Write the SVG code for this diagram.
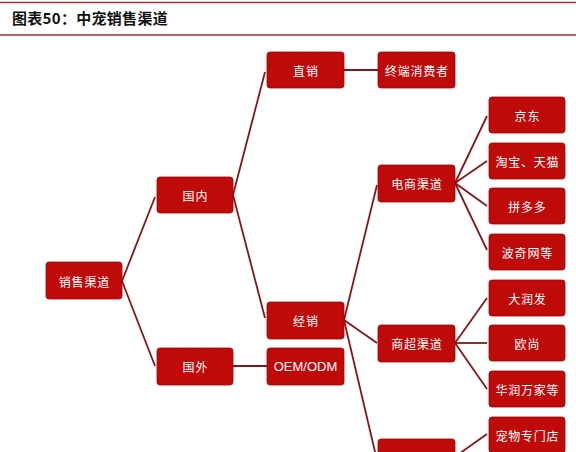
<svg xmlns="http://www.w3.org/2000/svg" width="576" height="452" viewBox="0 0 576 452">
<defs>
<style>
.hdr{stroke:#9c3434;stroke-width:1.3}
.title{font-family:"Noto Sans CJK SC","Noto Sans",sans-serif;font-size:15px;font-weight:bold;fill:#111;letter-spacing:0.3px}
.box{fill:#bf0a0a;stroke:#a20404;stroke-width:0.8}
.lbl{font-family:"Noto Sans CJK SC","Noto Sans",sans-serif;font-size:12px;fill:#fff;text-anchor:middle;dominant-baseline:central;letter-spacing:0.8px}
.lat{font-family:"Liberation Sans",Arial,sans-serif;font-size:13px;fill:#fff;text-anchor:middle;dominant-baseline:central}
.con line{stroke:#86161a;stroke-width:1.8;fill:none}
</style>
</defs>
<rect width="576" height="452" fill="#fff"/>
<line class="hdr" x1="0" y1="2.5" x2="576" y2="2.5"/>
<line class="hdr" x1="0" y1="35" x2="576" y2="35"/>
<text class="title" x="12" y="24">图表50：中宠销售渠道</text>

<g id="connectors" class="con">
<line x1="122" y1="281" x2="155" y2="197"/>
<line x1="122" y1="281" x2="155" y2="366"/>
<line x1="233" y1="195" x2="265" y2="72"/>
<line x1="233" y1="195" x2="265" y2="318"/>
<line x1="233" y1="366" x2="267" y2="366"/>
<line x1="344" y1="70" x2="378" y2="70"/>
<line x1="344" y1="320" x2="377" y2="185"/>
<line x1="344" y1="320" x2="377" y2="343"/>
<line x1="344" y1="320" x2="376" y2="456"/>
<line x1="455" y1="183" x2="487" y2="116"/>
<line x1="455" y1="183" x2="487" y2="161"/>
<line x1="455" y1="183" x2="487" y2="206"/>
<line x1="455" y1="183" x2="487" y2="250"/>
<line x1="455" y1="343" x2="487" y2="298"/>
<line x1="455" y1="343" x2="487" y2="343"/>
<line x1="455" y1="343" x2="487" y2="389"/>
<line x1="456" y1="456" x2="487" y2="434"/>
</g>

<g id="n-root"><rect class="box" x="46" y="262" width="76" height="37" rx="3"/><text class="lbl" x="84.4" y="281">销售渠道</text></g>
<g id="n-domestic"><rect class="box" x="157" y="177" width="76" height="36" rx="3"/><text class="lbl" x="195.4" y="195">国内</text></g>
<g id="n-overseas"><rect class="box" x="157" y="348" width="76" height="37" rx="3"/><text class="lbl" x="195.4" y="366.5">国外</text></g>
<g id="n-direct"><rect class="box" x="267" y="52" width="77" height="36" rx="3"/><text class="lbl" x="305.9" y="70">直销</text></g>
<g id="n-distrib"><rect class="box" x="267" y="302" width="77" height="37" rx="3"/><text class="lbl" x="305.9" y="320.5">经销</text></g>
<g id="n-oem"><rect class="box" x="267" y="348" width="77" height="37" rx="3"/><text class="lat" x="305.5" y="366.5">OEM/ODM</text></g>
<g id="n-consumer"><rect class="box" x="378" y="52" width="77" height="36" rx="3"/><text class="lbl" x="416.9" y="70">终端消费者</text></g>
<g id="n-ecom"><rect class="box" x="378" y="165" width="77" height="37" rx="3"/><text class="lbl" x="416.9" y="183.5">电商渠道</text></g>
<g id="n-super"><rect class="box" x="378" y="325" width="77" height="37" rx="3"/><text class="lbl" x="416.9" y="343.5">商超渠道</text></g>
<g id="n-bottom"><rect class="box" x="378" y="439" width="77" height="37" rx="3"/></g>
<g id="n-jd"><rect class="box" x="489" y="97" width="76" height="36" rx="3"/><text class="lbl" x="527.4" y="115">京东</text></g>
<g id="n-taobao"><rect class="box" x="489" y="143" width="76" height="36" rx="3"/><text class="lbl" x="527.4" y="161">淘宝、天猫</text></g>
<g id="n-pdd"><rect class="box" x="489" y="188" width="76" height="36" rx="3"/><text class="lbl" x="527.4" y="206">拼多多</text></g>
<g id="n-boqi"><rect class="box" x="489" y="234" width="76" height="36" rx="3"/><text class="lbl" x="527.4" y="252">波奇网等</text></g>
<g id="n-rt"><rect class="box" x="489" y="280" width="76" height="36" rx="3"/><text class="lbl" x="527.4" y="298">大润发</text></g>
<g id="n-auchan"><rect class="box" x="489" y="325" width="76" height="36" rx="3"/><text class="lbl" x="527.4" y="343">欧尚</text></g>
<g id="n-crv"><rect class="box" x="489" y="371" width="76" height="36" rx="3"/><text class="lbl" x="527.4" y="389">华润万家等</text></g>
<g id="n-petshop"><rect class="box" x="489" y="417" width="76" height="36" rx="3"/><text class="lbl" x="527.4" y="435">宠物专门店</text></g>
</svg>
